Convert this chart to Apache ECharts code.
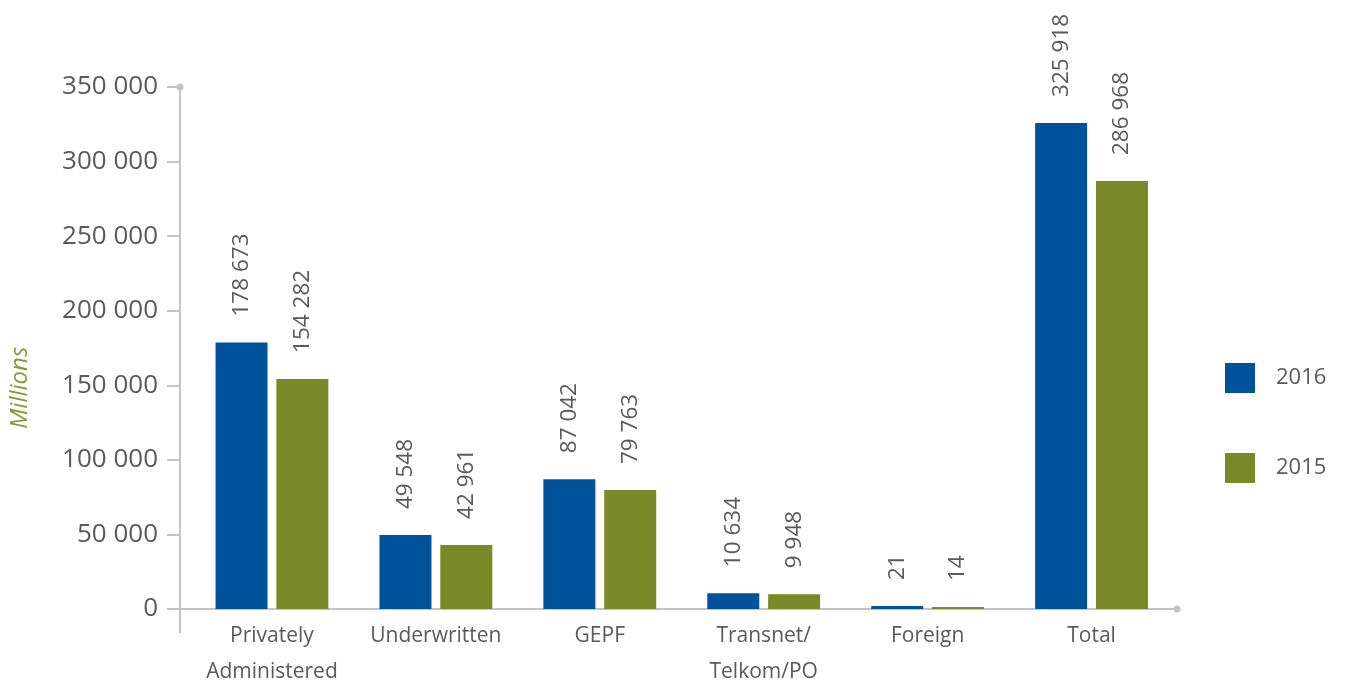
<!DOCTYPE html>
<html>
<head>
<meta charset="utf-8">
<script src="https://cdn.jsdelivr.net/npm/echarts@6/dist/echarts.min.js"></script>
<style>
html,body{margin:0;padding:0;background:#fff;}
#chart{width:1347px;height:688px;}
</style>
</head>
<body>
<div id="chart"></div>
<script>
const categories = ['Privately\nAdministered', 'Underwritten', 'GEPF', 'Transnet/\nTelkom/PO', 'Foreign', 'Total'];
const values2016 = [178673, 49548, 87042, 10634, 21, 325918];
const values2015 = [154282, 42961, 79763, 9948, 14, 286968];
const yTicks = [0, 50000, 100000, 150000, 200000, 250000, 300000, 350000];
const seriesNames = ['2016', '2015'];

const BLUE = '#00539b';
const GREEN = '#7b8a28';
const TEXT = '#5a5a5a';
const AXIS = '#c4c4c4';
const FONT = '"Open Sans", "Noto Sans", sans-serif';

const GRID_LEFT = 190;
const Y_OFFSET = 10;

function fmt(v) {
  return String(v).replace(/\B(?=(\d{3})+(?!\d))/g, ' ');
}

const chart = echarts.init(document.getElementById('chart'), null, {renderer: 'canvas'});

const labelCfg = {
  show: true,
  position: 'top',
  distance: 26,
  rotate: 90,
  align: 'left',
  verticalAlign: 'middle',
  color: TEXT,
  fontFamily: FONT,
  fontSize: 22.5,
  formatter: p => fmt(p.value)
};

chart.setOption({
  animation: false,
  backgroundColor: '#fff',
  grid: {left: GRID_LEFT, right: 173.5, top: 87, bottom: 55.5, containLabel: false, outerBoundsMode: 'none'},
  legend: {
    orient: 'vertical',
    left: 1225,
    top: 363,
    padding: 0,
    itemWidth: 30,
    itemHeight: 30,
    itemGap: 60,
    icon: 'rect',
    data: seriesNames,
    textStyle: {color: TEXT, fontFamily: FONT, fontSize: 22, padding: [0, 0, 0, 16]}
  },
  xAxis: {
    type: 'category',
    data: categories,
    axisLine: {show: true, onZero: true, lineStyle: {color: AXIS, width: 2}, symbol: ['none', 'circle'], symbolSize: [7, 7], symbolOffset: [0, 3.5]},
    axisTick: {show: false},
    axisLabel: {color: TEXT, fontFamily: FONT, fontSize: 21, lineHeight: 36, margin: -14.5, interval: 0}
  },
  yAxis: {
    type: 'value',
    min: -15750,
    max: 350000,
    offset: Y_OFFSET,
    name: 'Millions',
    nameLocation: 'middle',
    nameRotate: 90,
    nameGap: 148,
    nameTextStyle: {color: '#8a9a3a', fontStyle: 'italic', fontFamily: FONT, fontSize: 24, padding: [0, 56, 0, 0]},
    axisLine: {show: true, lineStyle: {color: AXIS, width: 2}, symbol: ['none', 'circle'], symbolSize: [7, 7]},
    axisTick: {show: true, length: 13, lineStyle: {color: AXIS, width: 2}, customValues: yTicks},
    axisLabel: {color: TEXT, fontFamily: FONT, fontSize: 26, margin: 22, customValues: yTicks, formatter: v => fmt(v)},
    splitLine: {show: false}
  },
  series: [
    {name: seriesNames[0], type: 'bar', data: values2016, barWidth: 52, barGap: '17%', barMinHeight: 3, itemStyle: {color: BLUE}, label: labelCfg},
    {name: seriesNames[1], type: 'bar', data: values2015, barWidth: 52, barGap: '17%', barMinHeight: 2, itemStyle: {color: GREEN}, label: labelCfg}
  ]
});

// extend the x-axis base line left to meet the offset y-axis line
const y0 = chart.convertToPixel({yAxisIndex: 0}, 0);
chart.setOption({
  graphic: [{
    type: 'line',
    silent: true,
    shape: {x1: GRID_LEFT - Y_OFFSET - 1, y1: y0, x2: GRID_LEFT + 1, y2: y0},
    style: {stroke: AXIS, lineWidth: 2}
  }]
});
</script>
</body>
</html>
